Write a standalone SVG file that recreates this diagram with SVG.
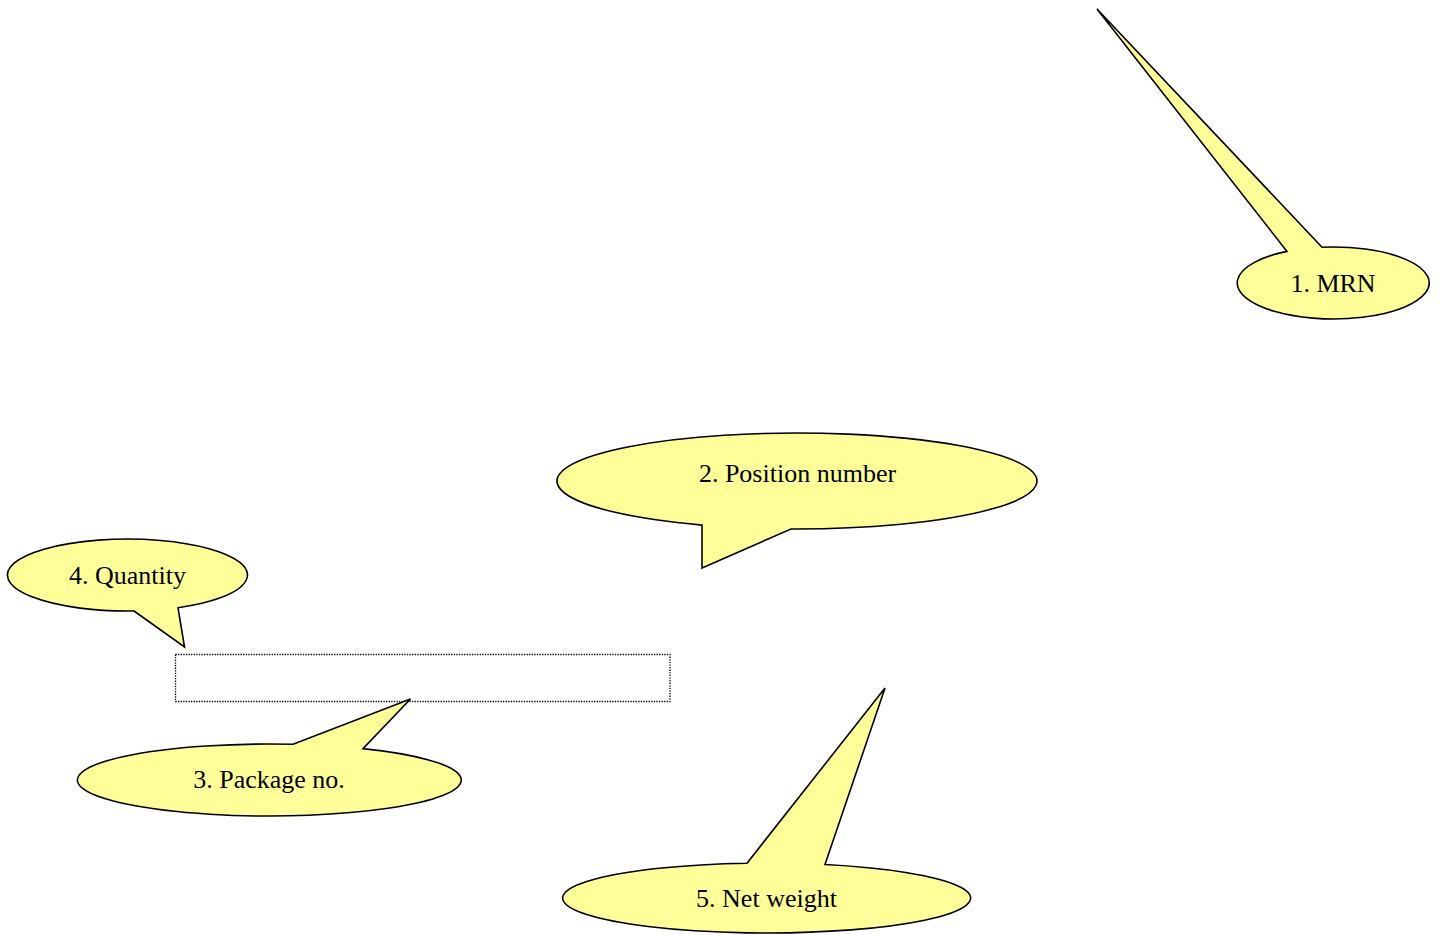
<svg xmlns="http://www.w3.org/2000/svg" width="1442" height="935" viewBox="0 0 1442 935">
<style>
.callout{fill:#FFFF99;stroke:#000;stroke-width:1.6;stroke-linejoin:miter}
.lbl{font-family:"Liberation Serif","Times New Roman",serif;font-size:26px;fill:#000;text-anchor:middle}
.frame{fill:none;stroke:#000;stroke-width:1.3;stroke-dasharray:1.3 1.3}
</style>
<rect width="1442" height="935" fill="#fff"/>
<g id="connectors"></g>
<g id="field-frame">
<rect class="frame" x="175.5" y="654.5" width="494.5" height="47"/>
</g>
<g id="callout-1">
<path class="callout" d="M1287,251.4 L1097,9 L1322,247.2 A96 36 0 1 1 1287,251.4 Z"/>
<text class="lbl" x="1333" y="292">1. MRN</text>
</g>
<g id="callout-2">
<path class="callout" d="M791,529 A240 48 0 1 0 702,525.1 L702,568 Z"/>
<text class="lbl" x="797.5" y="482">2. Position number</text>
</g>
<g id="callout-4">
<path class="callout" d="M134,611 L184.5,647 L178,607.7 A120 36 0 1 0 134,611 Z"/>
<text class="lbl" x="127.5" y="584">4. Quantity</text>
</g>
<g id="callout-3">
<path class="callout" d="M293,744.3 L410.5,699 L363,748.6 A192 36 0 1 1 293,744.3 Z"/>
<text class="lbl" x="269" y="788">3. Package no.</text>
</g>
<g id="callout-5">
<path class="callout" d="M747,863.2 L885,688 L825,864.5 A204 35 0 1 1 747,863.2 Z"/>
<text class="lbl" x="766.5" y="907">5. Net weight</text>
</g>
</svg>
